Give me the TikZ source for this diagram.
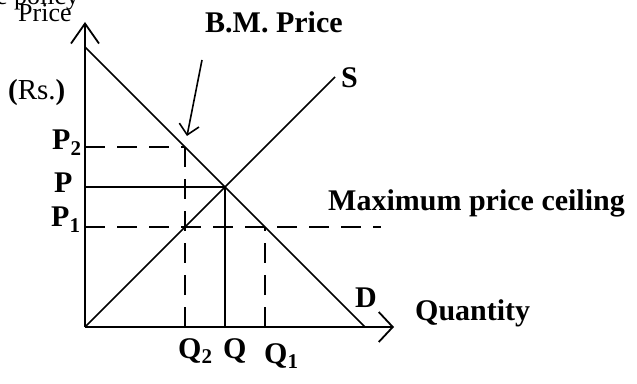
\documentclass[tikz,border=0pt]{standalone}
\usepackage{fontspec}
\setmainfont{Liberation Serif}
\usetikzlibrary{arrows.meta}

\tikzset{
  curve/.style={line width=1.6pt},
  guide/.style={line width=1.6pt, dash pattern=on 20pt off 12pt},
  axisline/.style={line width=1.8pt},
  lbl/.style={font=\fontsize{30}{34}\selectfont\bfseries, inner sep=0pt, anchor=base west},
  biglbl/.style={font=\fontsize{30}{34}\selectfont\bfseries, inner sep=0pt, anchor=base west},
  plainlbl/.style={font=\fontsize{26}{30}\selectfont, inner sep=0pt, anchor=base west}
}

\begin{document}
\begin{tikzpicture}[x=1pt, y=1pt]

  % Page frame (keeps the margins of the original)
  \useasboundingbox (-85,-56) rectangle (552,327);

  % Axes
  \coordinate (O)    at (0,   0);
  \coordinate (ytip) at (0,   305);
  \coordinate (xtip) at (309, 0);

  % Demand and supply end points
  \coordinate (Dtop) at (0,   280);
  \coordinate (Dbot) at (280, 0);
  \coordinate (Stop) at (250, 250);

  % Equilibrium and the two price levels
  \coordinate (E)  at (140, 140);   % P, Q
  \coordinate (A2) at (100, 180);   % P2 on demand
  \coordinate (A1) at (180, 100);   % P1 on demand
  \coordinate (ceilend) at (296, 100);

  % Pointer for the black market price
  \coordinate (bmfrom) at (117, 267);
  \coordinate (bmto)   at (102, 191);

  % Draw the axes
  \draw[axisline, -{Straight Barb[length=20pt, width=28pt]}] (O) -- (ytip);
  \draw[axisline, -{Straight Barb[length=14pt, width=30pt]}] (O) -- (xtip);

  % Demand and supply
  \draw[curve] (Dtop) -- (Dbot);
  \draw[curve] (O) -- (Stop);

  % Equilibrium guides
  \draw[curve] (E -| O) -- (E);
  \draw[curve] (E |- O) -- (E);

  % Price ceiling and black market guides
  \draw[guide] (A2 -| O) -- (A2);
  \draw[guide] (A2 |- O) -- (A2);
  \draw[guide] (A1 -| O) -- (ceilend);
  \draw[guide] (A1 |- O) -- (A1);

  % Black market arrow
  \draw[line width=1.6pt, -{Straight Barb[length=10pt, width=20pt]}] (bmfrom) -- (bmto);

  % Axis labels
  \node[plainlbl] (cut)   at (-89, 322) {e policy};
  \node[plainlbl] (price) at (-67, 305) {Price};
  \node[plainlbl, font=\fontsize{29}{33}\selectfont] (rs) at (-77, 227) {\textbf{(}Rs.\textbf{)}};
  \node[biglbl] (qty) at (330, 7) {Quantity};

  % Price labels
  \node[lbl] (lP2) at (-33, 177) {P\textsubscript{2}};
  \node[lbl] (lP)  at (-31, 134) {P};
  \node[lbl] (lP1) at (-34, 100) {P\textsubscript{1}};

  % Quantity labels
  \node[lbl] (lQ2) at (93,  -31) {Q\textsubscript{2}};
  \node[lbl] (lQ)  at (138, -31) {Q};
  \node[lbl] (lQ1) at (179, -36) {Q\textsubscript{1}};

  % Curve labels
  \node[biglbl] (lS) at (256, 239) {S};
  \node[lbl]    (lD) at (270, 20)  {D};

  % Headings
  \node[biglbl] (bm)   at (120, 294) {B.M. Price};
  \node[biglbl] (ceil) at (243, 116) {Maximum price ceiling};

\end{tikzpicture}
\end{document}
